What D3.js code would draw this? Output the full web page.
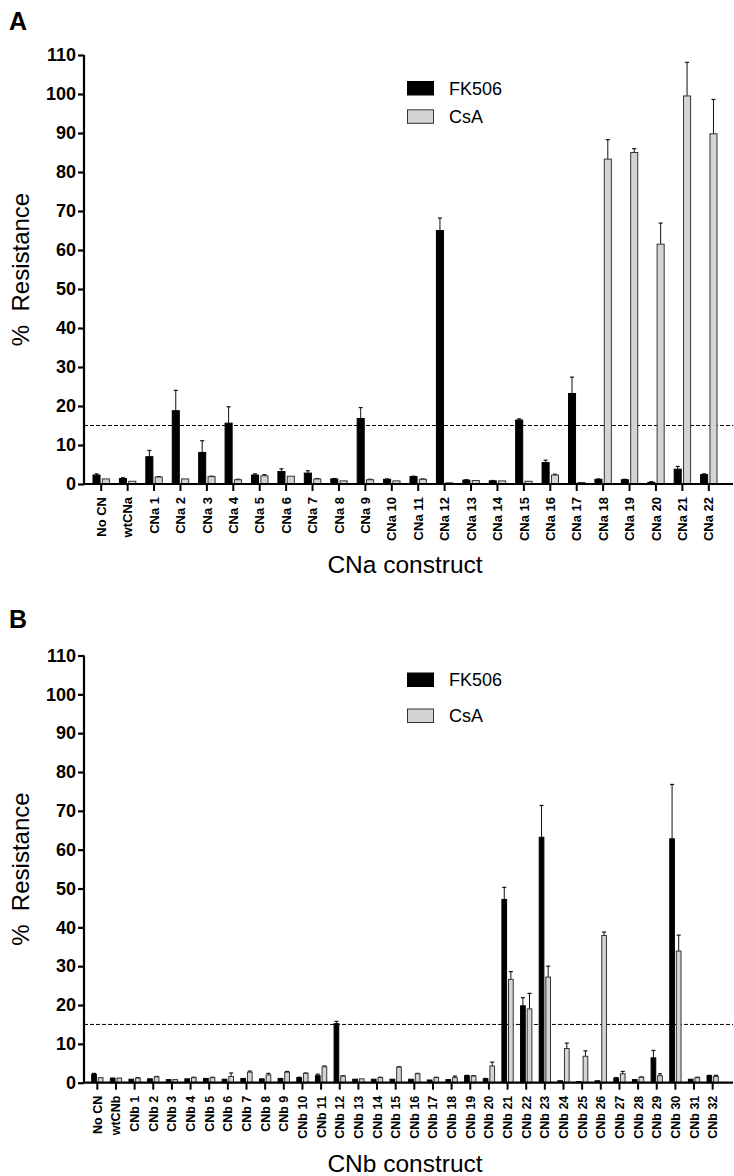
<!DOCTYPE html>
<html><head><meta charset="utf-8">
<script src="https://cdn.jsdelivr.net/npm/d3@7/dist/d3.min.js"></script>
<style>
html,body{margin:0;padding:0;background:#fff;}
svg text{font-family:"Liberation Sans",Arial,sans-serif;}
</style></head>
<body>
<svg id="chart" width="734" height="1176"></svg>
<script>
// ---------- DATA ----------
const seriesNames = ["FK506", "CsA"];
const yTicks = [0,10,20,30,40,50,60,70,80,90,100,110];
const threshold = 15;

const catsA = ["No CN","wtCNa","CNa 1","CNa 2","CNa 3","CNa 4","CNa 5","CNa 6","CNa 7","CNa 8","CNa 9","CNa 10","CNa 11","CNa 12","CNa 13","CNa 14","CNa 15","CNa 16","CNa 17","CNa 18","CNa 19","CNa 20","CNa 21","CNa 22"];
const fkA    = [2.3,1.4,7.0,18.8,8.1,15.6,2.3,3.2,2.8,1.3,16.8,1.2,1.9,65.0,1.0,0.8,16.4,5.5,23.2,1.2,1.1,0.4,3.8,2.4];
const fkAErr = [0.3,0.2,1.6,5.2,3.0,4.2,0.3,0.7,0.6,0.1,2.8,0.1,0.1,3.2,0.1,0.1,0.3,0.6,4.2,0.1,0.1,0.2,0.7,0.2];
const csaA    = [1.3,0.7,1.8,1.3,1.9,1.1,2.1,2.0,1.3,0.8,1.1,0.8,1.2,0.3,0.9,0.8,0.7,2.3,0.4,83.3,85.0,61.5,99.5,89.8];
const csaAErr = [0,0,0.1,0,0.1,0.1,0.3,0,0.1,0,0.1,0,0.1,0,0,0,0,0.2,0,5.0,1.0,5.4,8.6,8.8];

const catsB = ["No CN","wtCNb","CNb 1","CNb 2","CNb 3","CNb 4","CNb 5","CNb 6","CNb 7","CNb 8","CNb 9","CNb 10","CNb 11","CNb 12","CNb 13","CNb 14","CNb 15","CNb 16","CNb 17","CNb 18","CNb 19","CNb 20","CNb 21","CNb 22","CNb 23","CNb 24","CNb 25","CNb 26","CNb 27","CNb 28","CNb 29","CNb 30","CNb 31","CNb 32"];
const fkB    = [2.2,1.1,0.9,1.0,0.8,1.0,1.1,0.9,1.1,1.0,1.1,1.3,1.8,15.2,0.9,0.9,0.9,0.9,0.7,0.8,1.8,1.0,47.2,19.8,63.2,0.5,0.3,0.5,1.2,0.8,6.4,62.8,0.9,1.8];
const fkBErr = [0.2,0.1,0,0,0,0,0,0,0,0,0,0.1,0.4,0.6,0,0,0,0,0,0,0.1,0.1,3.1,2.1,8.2,0,0,0,0.1,0,1.9,14.0,0,0.1];
const csaB    = [1.3,1.2,1.2,1.5,0.8,1.3,1.3,1.6,2.7,2.0,2.7,2.4,4.1,1.7,1.0,1.3,4.0,2.3,1.3,1.3,1.7,4.3,26.6,19.0,27.2,8.8,6.8,37.9,2.3,1.4,1.8,33.9,1.3,1.6];
const csaBErr = [0,0,0.1,0.1,0,0.1,0.1,0.9,0.3,0.4,0.2,0.1,0.2,0.1,0,0.1,0.1,0.1,0.1,0.4,0.1,1.0,2.0,4.0,2.8,1.4,1.4,0.9,0.6,0.1,0.5,4.1,0.1,0.3];

// ---------- DRAW ----------
const svg = d3.select("#chart");
const fills = ["#000000", "#d4d4d4"];
const strokes = ["#000000", "#333333"];

function panel(opt){
  const g = svg.append("g");
  const y = d3.scaleLinear().domain([0,110]).range([opt.y0, opt.yTop]);
  const x = d3.scaleBand().domain(opt.cats).range([88, 722]).paddingInner(0.34).paddingOuter(0.17);
  const x1 = d3.scaleBand().domain(seriesNames).range([0, x.bandwidth()]).paddingInner(0.14);
  const axisX = 84;

  // panel letter
  g.append("text").attr("x", 9).attr("y", opt.letterY).text(opt.letter)
    .style("font-size","25px").style("font-weight","bold");

  // y axis
  const ya = g.append("g").attr("transform", `translate(${axisX},0)`)
    .call(d3.axisLeft(y).tickValues(yTicks).tickSize(6).tickSizeOuter(0).tickPadding(2));
  ya.select(".domain").attr("stroke","#000").attr("stroke-width",2.2).attr("d", `M0,${y(110)}V${y(0)}`);
  ya.selectAll(".tick line").attr("stroke","#000").attr("stroke-width",2.2);
  ya.selectAll(".tick text").style("font-size","18px").style("font-weight","bold").attr("fill","#000");

  // y title
  g.append("text").attr("transform", `translate(${opt.yTitleX},${(y(0)+y(110))/2}) rotate(-90)`)
    .attr("text-anchor","middle").style("font-size","24px").text("%\u00a0 Resistance");

  // dashed threshold
  g.append("line").attr("x1", axisX).attr("x2", 733).attr("y1", y(threshold)).attr("y2", y(threshold))
    .attr("stroke","#000").attr("stroke-width",1).attr("stroke-dasharray","4,2");

  // bars
  const series = [opt.fk, opt.csa];
  const errs = [opt.fkErr, opt.csaErr];
  series.forEach((vals, si) => {
    const sg = g.append("g");
    opt.cats.forEach((c, i) => {
      const bx = x(c) + x1(seriesNames[si]);
      const bw = x1.bandwidth();
      const v = vals[i], e = errs[si][i];
      if (e > 0) {
        const cx = bx + bw/2;
        sg.append("line").attr("x1",cx).attr("x2",cx).attr("y1",y(v)).attr("y2",y(v+e))
          .attr("stroke","#111").attr("stroke-width",1);
        sg.append("line").attr("x1",cx-2).attr("x2",cx+2).attr("y1",y(v+e)).attr("y2",y(v+e))
          .attr("stroke","#111").attr("stroke-width",1.2);
      }
      sg.append("rect").attr("x",bx+0.5).attr("y",y(v)).attr("width",bw-1)
        .attr("height",Math.max(0.8, y(0)-y(v)))
        .attr("fill",fills[si]).attr("stroke",strokes[si]).attr("stroke-width",1);
    });
  });

  // x axis
  const xa = g.append("g").attr("transform", `translate(0,${y(0)})`)
    .call(d3.axisBottom(x).tickSize(7).tickSizeOuter(0));
  xa.select(".domain").remove();
  xa.selectAll(".tick line").attr("stroke","#000").attr("stroke-width",2);
  xa.selectAll(".tick text").attr("text-anchor","end").attr("fill","#000")
    .attr("transform","rotate(-90)").attr("x",-13).attr("y",0).attr("dy","0.36em")
    .style("font-size", opt.xFont + "px").style("font-weight","bold");
  g.append("line").attr("x1",axisX-1).attr("x2",733).attr("y1",y(0)).attr("y2",y(0))
    .attr("stroke","#000").attr("stroke-width",2.2);

  // x title
  g.append("text").attr("x", 405).attr("y", opt.xTitleY).attr("text-anchor","middle")
    .style("font-size","24.5px").text(opt.xTitle);

  // legend
  seriesNames.forEach((s, si) => {
    const ly = opt.legY + si*opt.legGap;
    g.append("rect").attr("x",407.5).attr("y",ly-7).attr("width",26).attr("height",13.5)
      .attr("fill",fills[si]).attr("stroke",strokes[si]).attr("stroke-width",1);
    g.append("text").attr("x",449).attr("y",ly).attr("dy","0.36em")
      .style("font-size","18px").text(s);
  });
}

panel({letter:"A", letterY:30, cats:catsA, fk:fkA, fkErr:fkAErr, csa:csaA, csaErr:csaAErr,
  y0:484, yTop:55, yTitleX:29, xFont:13, xTitle:"CNa construct", xTitleY:573,
  legY:88.5, legGap:28.3});
panel({letter:"B", letterY:628, cats:catsB, fk:fkB, fkErr:fkBErr, csa:csaB, csaErr:csaBErr,
  y0:1082.7, yTop:655.5, yTitleX:29, xFont:12.5, xTitle:"CNb construct", xTitleY:1172,
  legY:680, legGap:36});
</script>
</body></html>
